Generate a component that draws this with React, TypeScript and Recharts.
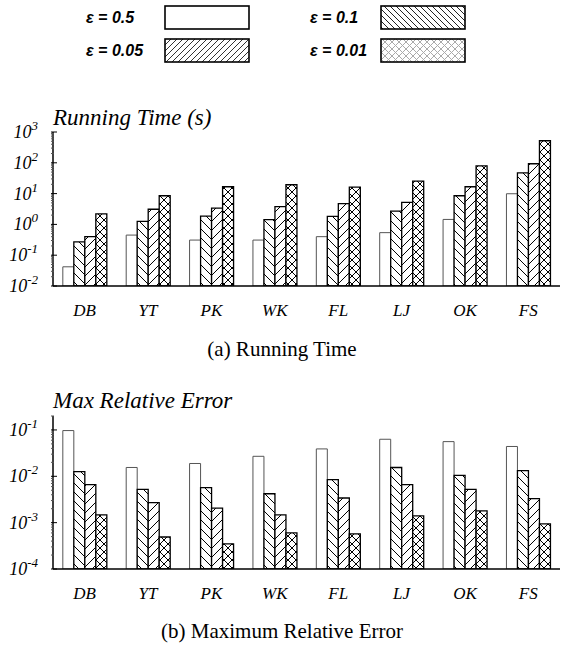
import React from 'react';
import { BarChart, Bar, XAxis, YAxis } from 'recharts';

const categories = ['DB', 'YT', 'PK', 'WK', 'FL', 'LJ', 'OK', 'FS'];
const seriesNames = ['ε = 0.5', 'ε = 0.1', 'ε = 0.05', 'ε = 0.01'];
const seriesKeys = ['e05', 'e01', 'e005', 'e001'];

const timeEps05 = [0.042, 0.45, 0.31, 0.31, 0.4, 0.54, 1.45, 9.9];
const timeEps01 = [0.27, 1.25, 1.86, 1.42, 1.82, 2.7, 8.5, 47];
const timeEps005 = [0.4, 3.1, 3.4, 3.75, 4.7, 5.2, 16.7, 93];
const timeEps001 = [2.2, 8.5, 16.7, 19.4, 16.3, 25.5, 80, 520];

const errEps05 = [0.097, 0.0155, 0.0189, 0.027, 0.039, 0.063, 0.056, 0.044];
const errEps01 = [0.0126, 0.0052, 0.0057, 0.0042, 0.0085, 0.0155, 0.0105, 0.0133];
const errEps005 = [0.0066, 0.0027, 0.00205, 0.00147, 0.0034, 0.0066, 0.0052, 0.0033];
const errEps001 = [0.00147, 0.00049, 0.00035, 0.0006, 0.00057, 0.0014, 0.0018, 0.00094];

const timeMajorTicks = [0.01, 0.1, 1, 10, 100, 1000];
const errMajorTicks = [0.0001, 0.001, 0.01, 0.1];
const timeDomain = [0.01, 1000];
const errDomain = [0.0001, 0.2];

const timeTitle = 'Running Time (s)';
const errTitle = 'Max Relative Error';
const captionA = '(a) Running Time';
const captionB = '(b) Maximum Relative Error';

const fills = ['#ffffff', 'url(#hb)', 'url(#hf)', 'url(#hx)'];
const strokes = ['#555', '#000', '#000', '#000'];
const strokeWidths = [1, 1.3, 1.3, 1.3];
const legendFills = ['#ffffff', 'url(#lhb)', 'url(#lhf)', 'url(#lhx)'];

function buildData(cols: number[][]) {
  return categories.map((name, i) => {
    const row: any = { name };
    seriesKeys.forEach((k, j) => {
      row[k] = cols[j][i];
    });
    return row;
  });
}

function withMinor(majors: number[], top: number) {
  const out: number[] = [];
  majors.forEach((m) => {
    out.push(m);
    for (let k = 2; k <= 9; k++) {
      const v = m * k;
      if (v <= top * 1.0001) out.push(v);
    }
  });
  return out;
}

const timeData = buildData([timeEps05, timeEps01, timeEps005, timeEps001]);
const errData = buildData([errEps05, errEps01, errEps005, errEps001]);

const SERIF = "'Liberation Serif', 'Times New Roman', serif";

const isMajorVal = (v: number, majors: number[]) => majors.some((m) => Math.abs(m - v) / m < 1e-6);

const YTick = (props: any) => {
  const { x, y, payload, majors } = props;
  const v = payload.value;
  const major = isMajorVal(v, majors);
  const exp = Math.round(Math.log10(v));
  return (
    <g>
      <line x1={x} x2={x + (major ? 6 : 3)} y1={y} y2={y} stroke={major ? '#000' : '#555'} strokeWidth={1} />
      {major && (
        <text x={x - 13} y={y + 6} textAnchor="end" fontFamily={SERIF} fontStyle="italic" fontSize={18} fill="#000">
          10
          <tspan dy={-8} fontSize={13}>
            {String(exp)}
          </tspan>
        </text>
      )}
    </g>
  );
};

const RTick = (props: any) => {
  const { x, y, payload, majors } = props;
  const major = isMajorVal(payload.value, majors);
  return <line x1={x} x2={x - (major ? 5 : 2)} y1={y} y2={y} stroke={major ? '#777' : '#bbb'} strokeWidth={1} />;
};

const XTick = (props: any) => {
  const { x, y, payload } = props;
  return (
    <text x={x} y={y + 28} textAnchor="middle" fontFamily={SERIF} fontStyle="italic" fontSize={17} fill="#000">
      {payload.value}
    </text>
  );
};

function Chart(props: { data: any[]; domain: number[]; majors: number[]; marginTop: number; marginBottom: number }) {
  const { data, domain, majors, marginTop, marginBottom } = props;
  const ticks = withMinor(majors, domain[1]);
  return (
    <BarChart
      width={563}
      height={220}
      data={data}
      margin={{ top: marginTop, right: 3, bottom: marginBottom, left: 0 }}
      barCategoryGap="15.5%"
      barGap={0}
    >
      <XAxis
        xAxisId="top"
        orientation="top"
        dataKey="name"
        mirror
        height={0}
        tick={false}
        tickSize={5}
        interval={0}
        axisLine={{ stroke: '#000', strokeWidth: 1.3 }}
        tickLine={{ stroke: '#000' }}
      />
      <XAxis
        dataKey="name"
        height={30}
        tickSize={0}
        tickLine={false}
        interval={0}
        axisLine={{ stroke: '#000', strokeWidth: 1.5 }}
        tick={<XTick />}
      />
      <YAxis
        yAxisId="l"
        type="number"
        scale="log"
        domain={domain}
        allowDataOverflow
        ticks={ticks}
        interval={0}
        width={53}
        tickSize={0}
        tickLine={false}
        axisLine={{ stroke: '#000', strokeWidth: 1.5 }}
        tick={<YTick majors={majors} />}
      />
      <YAxis
        yAxisId="r"
        orientation="right"
        type="number"
        scale="log"
        domain={domain}
        allowDataOverflow
        ticks={ticks}
        interval={0}
        width={0}
        mirror
        tickSize={0}
        tickLine={false}
        axisLine={{ stroke: '#999', strokeWidth: 1 }}
        tick={<RTick majors={majors} />}
      />
      {seriesKeys.map((k, j) => (
        <Bar
          key={k}
          dataKey={k}
          name={seriesNames[j]}
          yAxisId="l"
          fill={fills[j]}
          stroke={strokes[j]}
          strokeWidth={strokeWidths[j]}
          isAnimationActive={false}
        />
      ))}
    </BarChart>
  );
}

function hatch(id: string, p: number, kind: 'b' | 'f' | 'x', color: string, sw: number) {
  const back = `M0,0 L${p},${p} M${-2},${p - 2} L2,${p + 2} M${p - 2},-2 L${p + 2},2`;
  const fwd = `M0,${p} L${p},0 M-2,2 L2,-2 M${p - 2},${p + 2} L${p + 2},${p - 2}`;
  return (
    <pattern id={id} patternUnits="userSpaceOnUse" width={p} height={p}>
      <rect x={0} y={0} width={p} height={p} fill="#fff" />
      {(kind === 'b' || kind === 'x') && <path d={back} stroke={color} strokeWidth={sw} fill="none" />}
      {(kind === 'f' || kind === 'x') && <path d={fwd} stroke={color} strokeWidth={sw} fill="none" />}
    </pattern>
  );
}

const legendCols = [86, 310];
const legendBoxX = [165, 381];
const legendRows = [6, 39];

export default function App() {
  return (
    <div style={{ position: 'absolute', left: 0, top: 0, width: 563, height: 648, background: '#fff', overflow: 'hidden' }}>
      <svg width={0} height={0} style={{ position: 'absolute' }}>
        <defs>
          {hatch('hb', 9, 'b', '#000', 1)}
          {hatch('hf', 9, 'f', '#000', 1)}
          {hatch('hx', 8, 'x', '#000', 1)}
          {hatch('lhb', 6, 'b', '#222', 1)}
          {hatch('lhf', 6, 'f', '#333', 1)}
          {hatch('lhx', 7, 'x', '#aaa', 1)}
        </defs>
      </svg>
      <div style={{ position: 'absolute', left: 0, top: 100 }}>
        <Chart data={timeData} domain={timeDomain} majors={timeMajorTicks} marginTop={32} marginBottom={4} />
      </div>
      <div style={{ position: 'absolute', left: 0, top: 400 }}>
        <Chart data={errData} domain={errDomain} majors={errMajorTicks} marginTop={16} marginBottom={21} />
      </div>
      <svg width={563} height={648} style={{ position: 'absolute', left: 0, top: 0, pointerEvents: 'none' }}>
        {seriesNames.map((n, i) => {
          const col = i % 2;
          const row = Math.floor(i / 2);
          return (
            <g key={n}>
              <text
                x={legendCols[col]}
                y={legendRows[row] + 17}
                fontFamily="'Liberation Sans', Arial, sans-serif"
                fontWeight="bold"
                fontStyle="italic"
                fontSize={16}
                fill="#000"
              >
                {n}
              </text>
              <rect
                x={legendBoxX[col]}
                y={legendRows[row]}
                width={84}
                height={23}
                fill={legendFills[i]}
                stroke="#000"
                strokeWidth={1.6}
              />
            </g>
          );
        })}
        <text x={53} y={125} fontFamily={SERIF} fontStyle="italic" fontSize={23} fill="#000">
          {timeTitle}
        </text>
        <text x={53} y={408} fontFamily={SERIF} fontStyle="italic" fontSize={23} fill="#000">
          {errTitle}
        </text>
        <text x={282} y={356} textAnchor="middle" fontFamily={SERIF} fontSize={21} fill="#000">
          {captionA}
        </text>
        <text x={282} y={638} textAnchor="middle" fontFamily={SERIF} fontSize={21} fill="#000">
          {captionB}
        </text>
      </svg>
    </div>
  );
}
